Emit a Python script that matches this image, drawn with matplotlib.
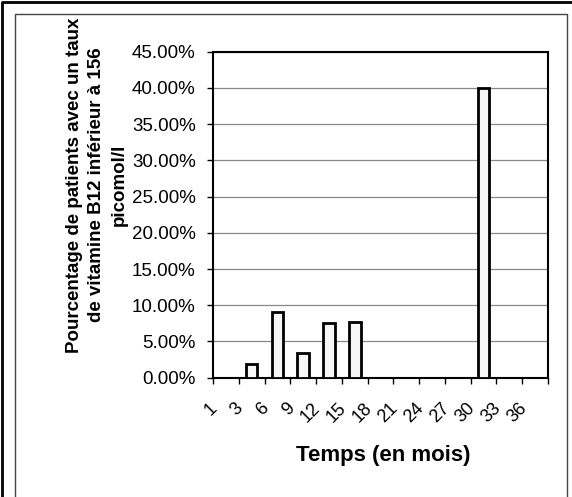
import numpy as np
import matplotlib
matplotlib.use("Agg")
from matplotlib import pyplot as plt
from matplotlib.lines import Line2D
from matplotlib.transforms import Bbox, TransformedBbox, ScaledTranslation
from matplotlib.ticker import FixedLocator, PercentFormatter

plt.rcParams['font.family'] = ['Liberation Sans', 'DejaVu Sans']

# data
months = ['1', '3', '6', '9', '12', '15', '18', '21', '24', '27', '30', '33', '36']
pct = [0.0, 1.86, 9.1, 3.4, 7.5, 7.7, 0.0, 0.0, 0.0, 0.0, 40.0, 0.0, 0.0]
y_ticks = [0, 5, 10, 15, 20, 25, 30, 35, 40, 45]

fig = plt.figure(figsize=(5.72, 4.97), dpi=100)
W, H = 572.0, 497.0

def fline(xs, ys, **kw):
    # line in pixel coords (y measured from top)
    fig.lines.append(Line2D([v / W for v in xs], [1 - v / H for v in ys],
                            transform=fig.transFigure, **kw))

# outer border (left + top) and inner chart frame
fline([2, 2, 572], [497, 1.5, 1.5], color='black', linewidth=2)
fline([15, 15, 567, 567], [497, 14, 14, 497], color='#444444', linewidth=1)

ax = fig.add_axes([213 / W, (H - 377.7) / H, 335 / W, 326 / H])
x = np.arange(len(months))
ax.bar(x, pct, width=0.45, color='#f6f6f6', edgecolor='black', linewidth=2, zorder=3)

ax.set_xlim(-0.5, len(months) - 0.5)
ax.set_ylim(0, 45)
ax.yaxis.set_major_locator(FixedLocator(y_ticks))
ax.yaxis.set_major_formatter(PercentFormatter(decimals=2))
ax.grid(axis='y', color='#888888', linewidth=0.9, zorder=0)
for s in ax.spines.values():
    s.set_color('black')
    s.set_linewidth(1.5)

# ticks between categories, labels at centres
ax.set_xticks(x)
ax.set_xticks(np.arange(len(months) + 1) - 0.5, minor=True)
ax.tick_params(axis='x', which='major', length=0, pad=20)
ax.tick_params(axis='x', which='minor', length=4, width=1, direction='out')
ax.tick_params(axis='y', length=4, width=1, direction='out', pad=8.5, labelsize=13.5)
ax.set_xticklabels(months, rotation=45, ha='right', va='center', rotation_mode='anchor', fontsize=13)
shift = ScaledTranslation(-11 / 100, 0, fig.dpi_scale_trans)
for lab in ax.get_xticklabels():
    lab.set_transform(lab.get_transform() + shift)

fig.text(383 / W, 1 - 455 / H, 'Temps (en mois)', ha='center', va='center',
         fontsize=16, fontweight='bold')

ylab = fig.text(97 / W, 1 - 185 / H,
                'Pourcentage de patients avec un taux\nde vitamine B12 inférieur à 156\npicomol/l',
                rotation=90, ha='center', va='center', multialignment='center',
                fontsize=13.5, fontweight='bold', linespacing=1.4)
ylab.set_clip_box(TransformedBbox(Bbox([[15 / W, 0], [567 / W, 1 - 15 / H]]), fig.transFigure))
ylab.set_clip_on(True)

fig.savefig('out.png', dpi=100)
